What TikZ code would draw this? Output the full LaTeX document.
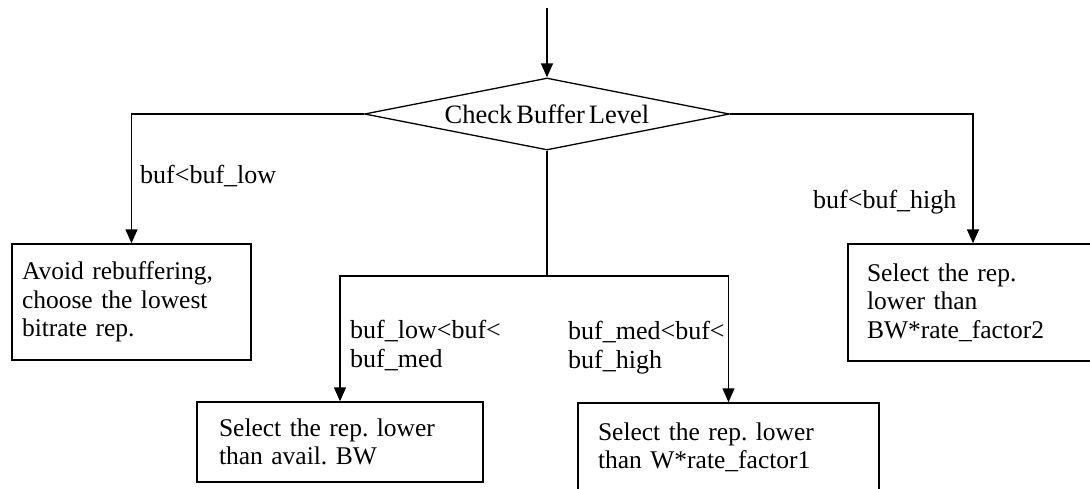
\documentclass[tikz,border=0pt]{standalone}
\usepackage{fontspec}
\setmainfont{Liberation Serif}[WordSpace=0.6]
\frenchspacing
\usetikzlibrary{shapes.geometric,arrows.meta}

\begin{document}
\begin{tikzpicture}[x=1pt, y=-1pt, font=\fontsize{25.5}{28.5}\selectfont,
        flow/.style={line width=1.5pt, -{Triangle[width=12pt,length=14pt]}},
        decision/.style={draw, line width=1.3pt, diamond, shape aspect=5, minimum width=365pt, minimum height=72pt, inner sep=0pt, font=\fontsize{26.5}{29}\selectfont},
        action/.style={draw, line width=1.5pt, align=left, inner ysep=0pt},
        cond/.style={anchor=base west, align=left, inner sep=0pt, font=\fontsize{26}{29}\selectfont}]
        \useasboundingbox (0,0) rectangle (1090,488);
        \clip (0,0) rectangle (1090,488);
        \coordinate (start) at (547, 8);
        \coordinate (split) at (547, 276);

        \node[decision] (chk) at (547, 114) {Check Buffer Level};
        \node[action, text width=219pt, inner xsep=10pt, minimum height=116pt] (lowest) at (131.5, 302) {Avoid rebuffering,\\choose the lowest\\bitrate rep.};
        \node[action, text width=212pt, inner xsep=19pt, minimum height=117pt] (factor2) at (973, 302.5) {Select the rep.\\lower than\\BW*rate\_factor2};
        \node[action, text width=242pt, inner xsep=22pt, minimum height=80pt] (availbw) at (340, 442) {Select the rep. lower\\than avail. BW};
        \node[action, text width=261pt, inner xsep=20pt, minimum height=97pt, text depth=40pt] (factor1) at (728.5, 451.5) {Select the rep. lower\\than W*rate\_factor1};

        \node[cond] (lbllow) at (140, 183) {buf<buf\_low};
        \node[cond] (lblhigh) at (813, 208) {buf<buf\_high};
        \node[cond] (lblmed) at (350, 367) {buf\_low<buf<\\buf\_med};
        \node[cond] (lblfast) at (568, 368) {buf\_med<buf<\\buf\_high};

        \draw[flow] (start) -- (chk.north);
        \draw[flow] (chk.west) -| (lowest.north);
        \draw[flow] (chk.east) -| (factor2.north);
        \draw[line width=1.5pt] (chk.south) -- (split);
        \draw[flow] (split) -| (availbw.north);
        \draw[flow] (split) -| (factor1.north);
    \end{tikzpicture}
\end{document}
